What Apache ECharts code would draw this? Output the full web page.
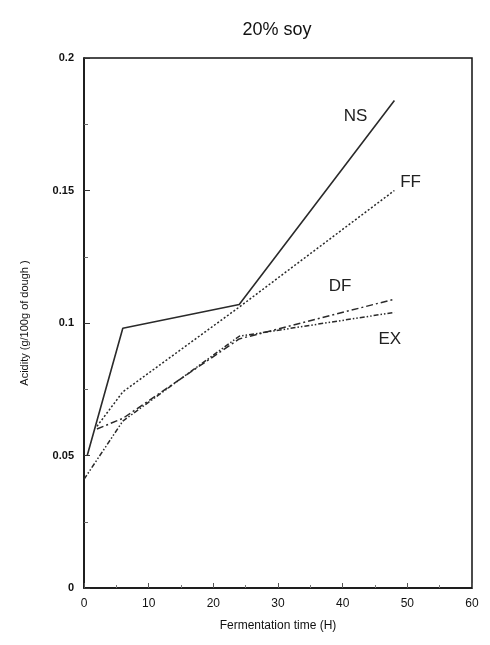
<!DOCTYPE html>
<html><head><meta charset="utf-8">
<script src="https://cdn.jsdelivr.net/npm/echarts@6/dist/echarts.min.js"></script>
<style>html,body{margin:0;padding:0;background:#fff}#c{width:490px;height:645px}</style>
</head><body><div id="c"></div>
<script>
var title = '20% soy';
var xName = 'Fermentation time (H)';
var yName = 'Acidity (g/100g of dough )';
var seriesNames = ['NS', 'FF', 'DF', 'EX'];
var nsData = [[0.5, 0.050], [6, 0.098], [24, 0.107], [48, 0.184]];
var ffData = [[2, 0.061], [6, 0.074], [24, 0.106], [48, 0.150]];
var dfData = [[2, 0.060], [6, 0.064], [24, 0.094], [48, 0.109]];
var exData = [[0, 0.041], [6, 0.063], [24, 0.095], [48, 0.104]];
var labelPos = [[42, 0.178], [50.5, 0.153], [39.6, 0.114], [47.3, 0.094]];

var chart = echarts.init(document.getElementById('c'));
var dashes = ['solid', [2, 2], [7, 3, 2, 3], [5, 2, 1.5, 2, 1.5, 2]];
var widths = [1.6, 1.5, 1.5, 1.5];
var datas = [nsData, ffData, dfData, exData];
var series = seriesNames.map(function (n, i) {
  return {
    name: n, type: 'line', data: datas[i], symbol: 'none',
    lineStyle: { color: '#2a2a2a', width: widths[i], type: dashes[i] },
    markPoint: {
      symbol: 'circle', symbolSize: 0,
      data: [{ coord: labelPos[i], value: n }],
      label: { show: true, formatter: n, color: '#222', fontSize: 17, fontFamily: 'Liberation Sans, Arial', position: 'inside' }
    }
  };
});
chart.setOption({
  animation: false,
  title: { text: title, left: 272, top: 16, textAlign: 'center',
    textStyle: { fontSize: 18, fontWeight: 'normal', color: '#111', fontFamily: 'Liberation Sans, Arial' } },
  grid: { left: 84, right: 18, top: 58, bottom: 57, show: true, borderColor: '#111', borderWidth: 1.5, containLabel: false },
  xAxis: {
    type: 'value', min: 0, max: 60, interval: 10,
    name: xName, nameLocation: 'middle', nameGap: 32,
    nameTextStyle: { fontSize: 12, color: '#111', fontFamily: 'Liberation Sans, Arial' },
    axisLine: { show: true, lineStyle: { color: '#111', width: 1.5 } },
    axisTick: { show: true, inside: true, length: 5, lineStyle: { color: '#555' } },
    minorTick: { show: true, splitNumber: 2, length: 3, lineStyle: { color: '#777' } },
    axisLabel: { fontSize: 12, color: '#111', margin: 10, fontFamily: 'Liberation Sans, Arial' },
    splitLine: { show: false }
  },
  yAxis: {
    type: 'value', min: 0, max: 0.2, interval: 0.05,
    name: yName, nameLocation: 'middle', nameGap: 54, nameRotate: 90,
    nameTextStyle: { fontSize: 11, color: '#111', fontFamily: 'Liberation Sans, Arial' },
    axisLine: { show: true, lineStyle: { color: '#111', width: 1.5 } },
    axisTick: { show: true, inside: true, length: 6, lineStyle: { color: '#333' } },
    minorTick: { show: true, splitNumber: 2, length: 4, lineStyle: { color: '#666' } },
    axisLabel: { fontSize: 11, color: '#111', margin: 10, fontWeight: 'bold', fontFamily: 'Liberation Sans, Arial' },
    splitLine: { show: false }
  },
  series: series
});
</script></body></html>
